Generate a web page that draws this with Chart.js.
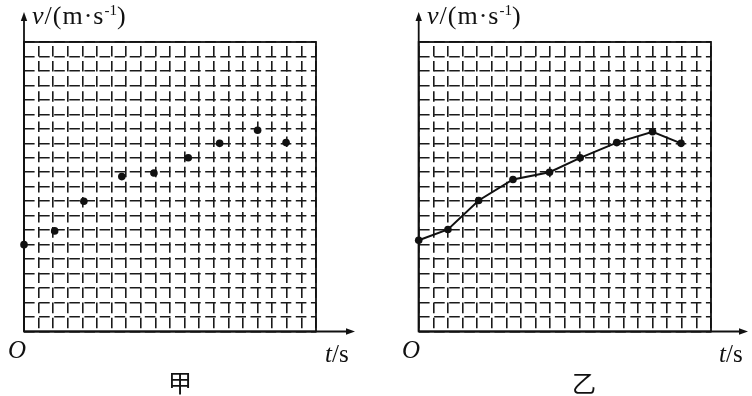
<!DOCTYPE html>
<html>
<head>
<meta charset="utf-8">
<script src="https://cdn.jsdelivr.net/npm/chart.js@4.4.1/dist/chart.umd.min.js"></script>
<style>
    html, body { margin: 0; padding: 0; background: #fff; overflow: hidden; }
    #wrap { position: relative; width: 752px; height: 396px; }
    canvas { position: absolute; top: 0; }
    .lbl { position: absolute; font-family: "Liberation Serif", "Times New Roman", serif; color: #111; white-space: nowrap; line-height: 1; }
    .ax { font-size: 25px; }
    .ttl { font-size: 26px; letter-spacing: 1px; }
    .ttl sup { font-size: 58%; vertical-align: 0.6em; line-height: 0; letter-spacing: 0; }
    .it { font-style: italic; }
    .cap { font-family: "Noto Sans CJK SC", sans-serif; font-size: 24px; }
</style>
</head>
<body>
<div id="wrap">
    <canvas id="chart-jia" width="376" height="396"></canvas>
    <canvas id="chart-yi" width="376" height="396" style="left:376px"></canvas>

    <div class="lbl ttl" style="left:32px;top:3px"><span class="it">v</span>/(m·s<sup>-1</sup>)</div>
    <div class="lbl ax it" style="left:8px;top:337px">O</div>
    <div class="lbl ax" style="left:325px;top:341px"><span class="it">t</span>/s</div>
    <div class="lbl cap" style="left:168px;top:370px">甲</div>

    <div class="lbl ttl" style="left:427px;top:3px"><span class="it">v</span>/(m·s<sup>-1</sup>)</div>
    <div class="lbl ax it" style="left:402px;top:337px">O</div>
    <div class="lbl ax" style="left:719px;top:341px"><span class="it">t</span>/s</div>
    <div class="lbl cap" style="left:572px;top:370px">乙</div>
</div>
<script>
// grid is 20 x 20 cells, values read in grid units
const GRID_MIN = 0;
const GRID_MAX = 20;

// 甲: measured points only
const T_JIA = [0, 2.1, 4.1, 6.7, 8.9, 11.25, 13.4, 16.0, 17.95];
const V_JIA = [6.0, 6.95, 9.0, 10.7, 10.95, 12.0, 13.0, 13.9, 13.05];

// 乙: same kind of data, joined by a line
const T_YI = [0, 2.0, 4.1, 6.45, 8.95, 11.05, 13.55, 16.0, 17.95];
const V_YI = [6.3, 7.05, 9.05, 10.5, 11.0, 12.0, 13.05, 13.8, 13.0];

const toPoints = (ts, vs) => ts.map((t, i) => ({ x: t, y: vs[i] }));

// frame around the grid plus the two arrowed axes
const axesPlugin = {
    id: 'axesFrame',
    beforeDatasetsDraw(chart, args, opts) {
        const { ctx, chartArea: { left, right, top, bottom } } = chart;
        ctx.save();
        ctx.strokeStyle = '#111';
        ctx.fillStyle = '#111';
        ctx.lineWidth = 1.8;
        ctx.strokeRect(left, top, right - left, bottom - top);

        // y axis
        ctx.beginPath();
        ctx.moveTo(left, bottom);
        ctx.lineTo(left, opts.yTip + 6);
        ctx.stroke();
        ctx.beginPath();
        ctx.moveTo(left, opts.yTip);
        ctx.lineTo(left - 3.2, opts.yTip + 9);
        ctx.lineTo(left + 3.2, opts.yTip + 9);
        ctx.closePath();
        ctx.fill();

        // x axis
        ctx.beginPath();
        ctx.moveTo(left, bottom);
        ctx.lineTo(opts.xTip - 6, bottom);
        ctx.stroke();
        ctx.beginPath();
        ctx.moveTo(opts.xTip, bottom);
        ctx.lineTo(opts.xTip - 9, bottom - 3.2);
        ctx.lineTo(opts.xTip - 9, bottom + 3.2);
        ctx.closePath();
        ctx.fill();
        ctx.restore();
    }
};

const makeChart = (canvas, ts, vs, withLine, padding, tips) => {
    return new Chart(canvas, {
        type: 'scatter',
        data: {
            datasets: [{
                data: toPoints(ts, vs),
                showLine: withLine,
                borderColor: '#111',
                borderWidth: 2,
                backgroundColor: '#111',
                pointRadius: 3.8,
                pointBorderWidth: 0,
                pointHoverRadius: 3.8,
                clip: false,
            }]
        },
        options: {
            responsive: false,
            animation: false,
            events: [],
            layout: { padding },
            plugins: {
                legend: { display: false },
                tooltip: { enabled: false },
                axesFrame: tips,
            },
            scales: {
                x: {
                    type: 'linear',
                    min: GRID_MIN,
                    max: GRID_MAX,
                    ticks: { display: false, stepSize: 1 },
                    grid: { color: '#1a1a1a', lineWidth: 1.6, drawTicks: false },
                    border: { display: false, dash: [10.6, 4.5], dashOffset: 11.2 },
                },
                y: {
                    type: 'linear',
                    min: GRID_MIN,
                    max: GRID_MAX,
                    ticks: { display: false, stepSize: 1 },
                    grid: { color: '#1a1a1a', lineWidth: 1.6, drawTicks: false },
                    border: { display: false, dash: [10.6, 4.5], dashOffset: 0 },
                }
            }
        },
        plugins: [axesPlugin]
    });
};

makeChart(document.getElementById('chart-jia'), T_JIA, V_JIA, false,
    { left: 24, right: 60, top: 42, bottom: 64.5 }, { yTip: 12, xTip: 355 });
makeChart(document.getElementById('chart-yi'), T_YI, V_YI, true,
    { left: 42.7, right: 41, top: 42, bottom: 64.5 }, { yTip: 12, xTip: 372 });
</script>
</body>
</html>
